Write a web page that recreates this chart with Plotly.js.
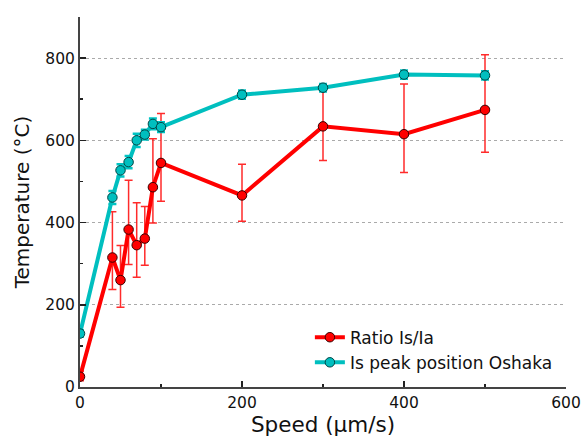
<!DOCTYPE html>
<html>
<head>
<meta charset="utf-8">
<script src="https://cdn.plot.ly/plotly-3.0.1.min.js"></script>
<style>html,body{margin:0;padding:0;background:#fff;}#chart{width:586px;height:437px;}</style>
</head>
<body>
<div id="chart"></div>
<script>
const speed = [0, 40, 50, 60, 70, 80, 90, 100, 200, 300, 400, 500];
const ratioTemp = [25, 315, 260, 383, 345, 361, 486, 545, 466, 634, 615, 674];
const ratioErrPlus = [14, 111, 84, 120, 103, 78, 118, 120, 76, 89, 122, 134];
const ratioErrMinus = [10, 78, 66, 85, 78, 65, 87, 93, 63, 83, 93, 103];
const peakTemp = [130, 461, 527, 547, 600, 614, 640, 632, 711, 728, 760, 758];
const peakErr = [8, 16, 15, 15, 16, 12, 13, 12, 10, 9, 10, 10];
const seriesNames = ["Ratio Is/Ia", "Is peak position Oshaka"];

const font = "DejaVu Sans, sans-serif";
const traces = [
  {
    x: speed, y: ratioTemp, name: seriesNames[0], type: 'scatter', mode: 'lines+markers',
    line: {color: '#ff0000', width: 4},
    marker: {color: '#ff0000', size: 9.5, line: {color: '#3a0000', width: 1}},
    error_y: {type: 'data', symmetric: false, array: ratioErrPlus, arrayminus: ratioErrMinus, visible: true, color: 'rgba(255,20,20,0.9)', thickness: 1.5, width: 4}
  },
  {
    x: speed, y: peakTemp, name: seriesNames[1], type: 'scatter', mode: 'lines+markers',
    line: {color: '#00bfbf', width: 4},
    marker: {color: '#00bfbf', size: 9.5, line: {color: '#004545', width: 1}},
    error_y: {type: 'data', array: peakErr, visible: true, color: '#00c4c4', thickness: 2.5, width: 4}
  }
];

const layout = {
  width: 586, height: 437,
  margin: {l: 80, r: 20, t: 17, b: 50},
  paper_bgcolor: '#fff', plot_bgcolor: '#fff',
  font: {family: font, size: 15.5, color: '#111'},
  showlegend: true,
  legend: {x: 0.473, y: 0.182, xanchor: 'left', yanchor: 'top', font: {family: font, size: 17, color: '#111'}, bgcolor: 'rgba(0,0,0,0)', tracegroupgap: 0},
  xaxis: {
    range: [0, 600], tickvals: [0, 200, 400, 600], ticks: 'inside', ticklen: 6, tickwidth: 1.5, tickcolor: '#222',
    showline: true, linecolor: '#444', linewidth: 2, showgrid: false, zeroline: false,
    minor: {tickvals: [100, 300, 500], ticks: 'inside', ticklen: 3, tickwidth: 1.5, tickcolor: '#222', showgrid: false},
    title: {text: 'Speed (µm/s)', font: {family: font, size: 21.5, color: '#111'}, standoff: 8},
    tickfont: {family: font, size: 15.5, color: '#111'}
  },
  yaxis: {
    range: [0, 900], tickvals: [0, 200, 400, 600, 800], ticks: 'inside', ticklen: 6, tickwidth: 1.5, tickcolor: '#222',
    showline: true, linecolor: '#444', linewidth: 2, zeroline: false,
    showgrid: true, gridcolor: '#aaaaaa', griddash: 'dot', gridwidth: 1,
    minor: {tickvals: [100, 300, 500, 700], ticks: 'inside', ticklen: 3, tickwidth: 1.5, tickcolor: '#222', showgrid: false},
    title: {text: 'Temperature (°C)', font: {family: font, size: 20, color: '#111'}, standoff: 10},
    tickfont: {family: font, size: 15.5, color: '#111'}
  }
};
Plotly.newPlot('chart', traces, layout, {displayModeBar: false, staticPlot: true});
</script>
</body>
</html>
